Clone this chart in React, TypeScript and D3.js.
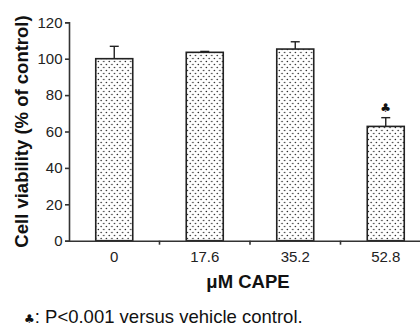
import React, { useEffect, useRef } from "react";
import * as d3 from "d3";

const doses = ["0", "17.6", "35.2", "52.8"];
const viability = [100, 103.5, 105.3, 62.8];
const errors = [6.8, 0.5, 4.0, 4.8];
const significant = [false, false, false, true];
const yTicks = [0, 20, 40, 60, 80, 100, 120];

const App = () => {
  const ref = useRef<SVGSVGElement>(null);
  const width = 420;
  const height = 326;

  useEffect(() => {
    const svg = d3.select(ref.current);
    svg.selectAll("*").remove();

    const margin = { top: 22.3, right: -11, bottom: 85.3, left: 69 };
    const font = "Liberation Sans, Arial, sans-serif";

    // dotted fill pattern
    const pat = svg
      .append("defs")
      .append("pattern")
      .attr("id", "dots")
      .attr("patternUnits", "userSpaceOnUse")
      .attr("width", 5.4)
      .attr("height", 6);
    pat.append("circle").attr("cx", 1.2).attr("cy", 1.5).attr("r", 0.75).attr("fill", "#222");
    pat.append("circle").attr("cx", 3.9).attr("cy", 4.5).attr("r", 0.75).attr("fill", "#222");

    const x = d3
      .scaleBand()
      .domain(doses)
      .range([margin.left, width - margin.right])
      .paddingInner(0)
      .paddingOuter(0);

    const y = d3
      .scaleLinear()
      .domain([0, 120])
      .range([height - margin.bottom, margin.top]);

    const bw = 37;

    const g = svg.append("g");
    doses.forEach((d, i) => {
      const cx = x(d)! + x.bandwidth() / 2;
      // error bar (upper only)
      g.append("line")
        .attr("x1", cx).attr("x2", cx)
        .attr("y1", y(viability[i])).attr("y2", y(viability[i] + errors[i]))
        .attr("stroke", "#222").attr("stroke-width", 1.4);
      g.append("line")
        .attr("x1", cx - 4.5).attr("x2", cx + 4.5)
        .attr("y1", y(viability[i] + errors[i])).attr("y2", y(viability[i] + errors[i]))
        .attr("stroke", "#222").attr("stroke-width", 1.4);
      g.append("rect")
        .attr("x", cx - bw / 2)
        .attr("y", y(viability[i]))
        .attr("width", bw)
        .attr("height", y(0) - y(viability[i]))
        .attr("fill", "url(#dots)")
        .attr("stroke", "#222")
        .attr("stroke-width", 1.6);
      if (significant[i]) {
        g.append("text")
          .attr("x", cx)
          .attr("y", y(viability[i] + errors[i]) - 6)
          .attr("text-anchor", "middle")
          .style("font-family", "DejaVu Sans, sans-serif")
          .style("font-size", "12px")
          .style("fill", "#111")
          .text("\u2663");
      }
    });

    // y axis
    const yAxis = svg
      .append("g")
      .attr("transform", `translate(${margin.left},0)`)
      .call(d3.axisLeft(y).tickValues(yTicks).tickSize(4).tickPadding(2.5));
    yAxis.select(".domain").attr("stroke", "#333").attr("stroke-width", 1.6);
    yAxis.selectAll(".tick line").attr("stroke", "#333").attr("stroke-width", 1.6);
    yAxis.selectAll("text")
      .style("font-family", font)
      .style("font-size", "15px")
      .style("fill", "#222");

    // x axis
    const xAxis = svg
      .append("g")
      .attr("transform", `translate(0,${y(0)})`)
      .call(d3.axisBottom(x).tickSize(0).tickPadding(11).tickSizeOuter(0));
    xAxis.select(".domain").attr("stroke", "#333").attr("stroke-width", 1.6);
    xAxis.selectAll("text")
      .style("font-family", font)
      .style("font-size", "15px")
      .style("fill", "#222");
    // ticks between categories
    xAxis
      .selectAll(".sep")
      .data(doses.slice(1))
      .join("line")
      .attr("class", "sep")
      .attr("x1", (d) => x(d)!)
      .attr("x2", (d) => x(d)!)
      .attr("y1", 0)
      .attr("y2", 4)
      .attr("stroke", "#333")
      .attr("stroke-width", 1.6);

    // axis titles
    svg.append("text")
      .attr("transform", `translate(28,${(y(0) + y(120)) / 2}) rotate(-90)`)
      .attr("text-anchor", "middle")
      .style("font-family", font)
      .style("font-weight", "bold")
      .style("font-size", "18.5px")
      .style("fill", "#111")
      .text("Cell viability (% of control)");

    svg.append("text")
      .attr("x", 248)
      .attr("y", 288)
      .attr("text-anchor", "middle")
      .style("font-family", font)
      .style("font-weight", "bold")
      .style("font-size", "18.5px")
      .style("fill", "#111")
      .text("\u03bcM CAPE");

    const foot = svg.append("text")
      .attr("x", 24)
      .attr("y", 323)
      .style("font-family", font)
      .style("font-size", "18.5px")
      .style("fill", "#111");
    foot.append("tspan").style("font-family", "DejaVu Sans, sans-serif").style("font-size", "12px").text("\u2663");
    foot.append("tspan").text(": P<0.001 versus vehicle control.");
  }, []);

  return (
    <svg
      ref={ref}
      width={width}
      height={height}
      style={{ position: "absolute", left: 0, top: 0, background: "#fff" }}
    ></svg>
  );
};

export default App;
